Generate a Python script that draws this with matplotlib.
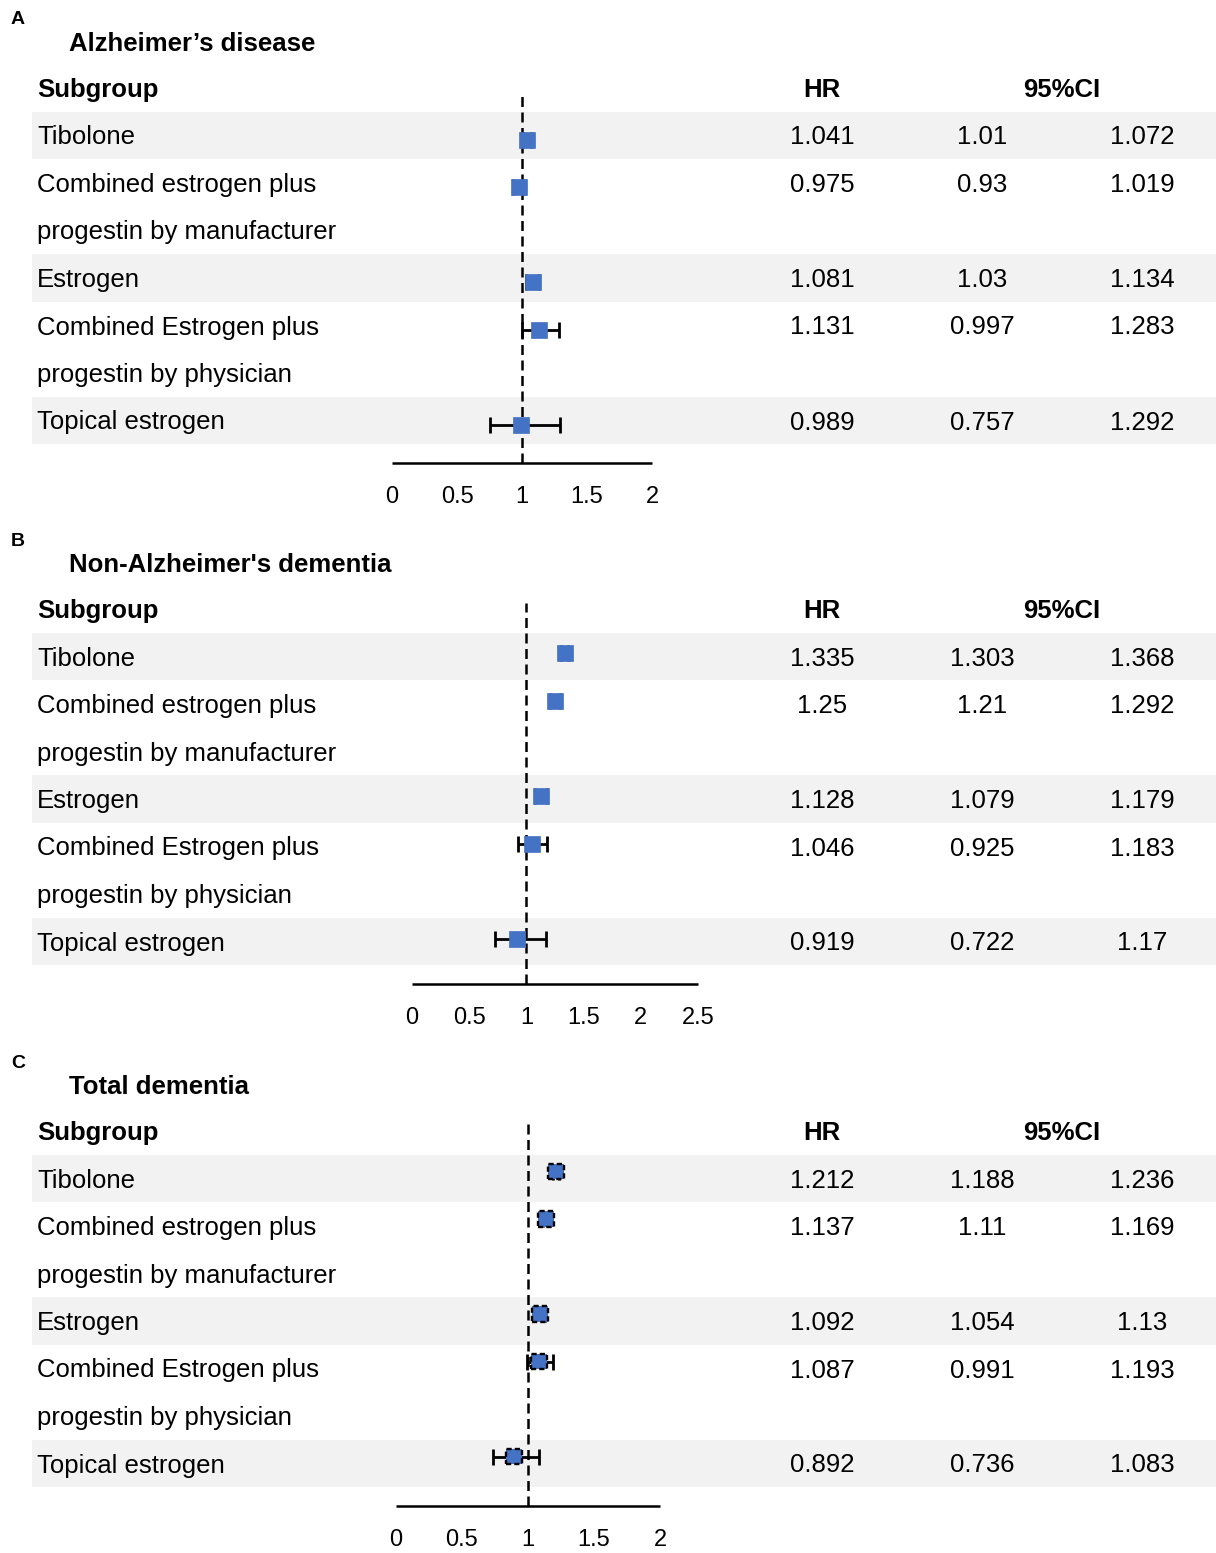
import numpy as np
import matplotlib
matplotlib.use("Agg")
import matplotlib.pyplot as plt
from matplotlib.patches import Rectangle

plt.rcParams['font.family'] = ['Liberation Sans', 'DejaVu Sans']

# ---------------- data ----------------
panel_letters = ["A", "B", "C"]
panel_titles = ["Alzheimer\u2019s disease", "Non-Alzheimer's dementia", "Total dementia"]
subgroups = ["Tibolone",
             "Combined estrogen plus\nprogestin by manufacturer",
             "Estrogen",
             "Combined Estrogen plus\nprogestin by physician",
             "Topical estrogen"]

hr_ad = [1.041, 0.975, 1.081, 1.131, 0.989]
lo_ad = [1.01, 0.93, 1.03, 0.997, 0.757]
hi_ad = [1.072, 1.019, 1.134, 1.283, 1.292]

hr_nad = [1.335, 1.25, 1.128, 1.046, 0.919]
lo_nad = [1.303, 1.21, 1.079, 0.925, 0.722]
hi_nad = [1.368, 1.292, 1.179, 1.183, 1.17]

hr_tot = [1.212, 1.137, 1.092, 1.087, 0.892]
lo_tot = [1.188, 1.11, 1.054, 0.991, 0.736]
hi_tot = [1.236, 1.169, 1.13, 1.193, 1.083]

ticks_ad = [0, 0.5, 1, 1.5, 2]
ticks_nad = [0, 0.5, 1, 1.5, 2, 2.5]
ticks_tot = [0, 0.5, 1, 1.5, 2]

panels = [
    dict(hr=hr_ad, lo=lo_ad, hi=hi_ad, ticks=ticks_ad),
    dict(hr=hr_nad, lo=lo_nad, hi=hi_nad, ticks=ticks_nad),
    dict(hr=hr_tot, lo=lo_tot, hi=hi_tot, ticks=ticks_tot),
]

# ---------------- layout (pixels) ----------------
W, H = 1216, 1553
header_y = [88, 609, 1131]
forest_x = [(392, 652), (412, 698), (396, 660)]
marker_shift = [4, -3, -7]
dash_top = [92, 603, 1121]
row_h = 47.5
TXT_DY = 2
BLUE = "#4472C4"
BAND = "#f2f2f2"
FS = 18.5

fig = plt.figure(figsize=(W / 100, H / 100), dpi=100)
bg = fig.add_axes([0, 0, 1, 1])
bg.set_xlim(0, W)
bg.set_ylim(H, 0)
bg.axis("off")


def fmt(v):
    return f"{v:g}"


for p, (letter, title, d) in enumerate(zip(panel_letters, panel_titles, panels)):
    hy = header_y[p]
    # line index of each subgroup (two-line labels take two lines)
    line_idx = []
    k = 0
    for s in subgroups:
        line_idx.append(k)
        k += s.count("\n") + 1

    # grey bands on alternate subgroups
    for i, s in enumerate(subgroups):
        if i % 2 == 0:
            yc = hy + row_h * (line_idx[i] + 1)
            nl = s.count("\n") + 1
            bg.add_patch(Rectangle((32, yc - row_h / 2), W - 32, row_h * nl,
                                   facecolor=BAND, edgecolor="none", zorder=0))

    bg.text(11, hy - 68, letter, fontsize=14, fontweight="bold", ha="left", va="center")
    bg.text(69, hy - 46 + TXT_DY, title, fontsize=FS, fontweight="bold", ha="left", va="center")
    bg.text(37, hy + TXT_DY, "Subgroup", fontsize=FS, fontweight="bold", ha="left", va="center")
    bg.text(822, hy + TXT_DY, "HR", fontsize=FS, fontweight="bold", ha="center", va="center")
    bg.text(1062, hy + TXT_DY, "95%CI", fontsize=FS, fontweight="bold", ha="center", va="center")

    for i, s in enumerate(subgroups):
        for j, line in enumerate(s.split("\n")):
            yc = hy + row_h * (line_idx[i] + j + 1) + TXT_DY
            bg.text(37, yc, line, fontsize=FS, ha="left", va="center", zorder=2)
        yc = hy + row_h * (line_idx[i] + 1) + TXT_DY
        bg.text(822, yc, fmt(d["hr"][i]), fontsize=FS, ha="center", va="center", zorder=2)
        bg.text(982, yc, fmt(d["lo"][i]), fontsize=FS, ha="center", va="center", zorder=2)
        bg.text(1142, yc, fmt(d["hi"][i]), fontsize=FS, ha="center", va="center", zorder=2)

    # forest axes
    x0, x1 = forest_x[p]
    axis_y = hy + 375
    top = dash_top[p]
    ax = fig.add_axes([x0 / W, 1 - axis_y / H, (x1 - x0) / W, (axis_y - top) / H])
    ax.set_facecolor("none")
    ax.set_xlim(0, d["ticks"][-1])
    ax.set_ylim(axis_y, top)
    for sp in ["top", "left", "right"]:
        ax.spines[sp].set_visible(False)
    ax.spines["bottom"].set_linewidth(1.8)
    ax.spines["bottom"].set_capstyle("butt")
    ax.set_yticks([])
    ax.set_xticks(d["ticks"])
    ax.set_xticklabels([fmt(t) for t in d["ticks"]])
    ax.tick_params(axis="x", length=0, pad=16.5, labelsize=17)

    ax.axvline(1, color="black", lw=1.8, linestyle=(0, (4.0, 2.2)), zorder=1)

    hr = np.array(d["hr"])
    lo = np.array(d["lo"])
    hi = np.array(d["hi"])
    ys = np.array([hy + row_h * (li + 1) + marker_shift[p] for li in line_idx])
    ax.errorbar(hr, ys, xerr=[hr - lo, hi - hr], fmt="none", ecolor="black",
                elinewidth=2.0, capsize=5.5, capthick=2.0, zorder=2)
    if p < 2:
        ax.plot(hr, ys, linestyle="none", marker="s", markersize=12,
                markerfacecolor=BLUE, markeredgecolor=BLUE, markeredgewidth=0.5, zorder=3)
    else:
        ax.scatter(hr, ys, marker="s", s=11.5 ** 2, facecolor=BLUE, edgecolor="black",
                   linewidths=1.7, linestyle=(0, (2.2, 1.3)), zorder=3, clip_on=False)

fig.savefig("out.png", dpi=100)
